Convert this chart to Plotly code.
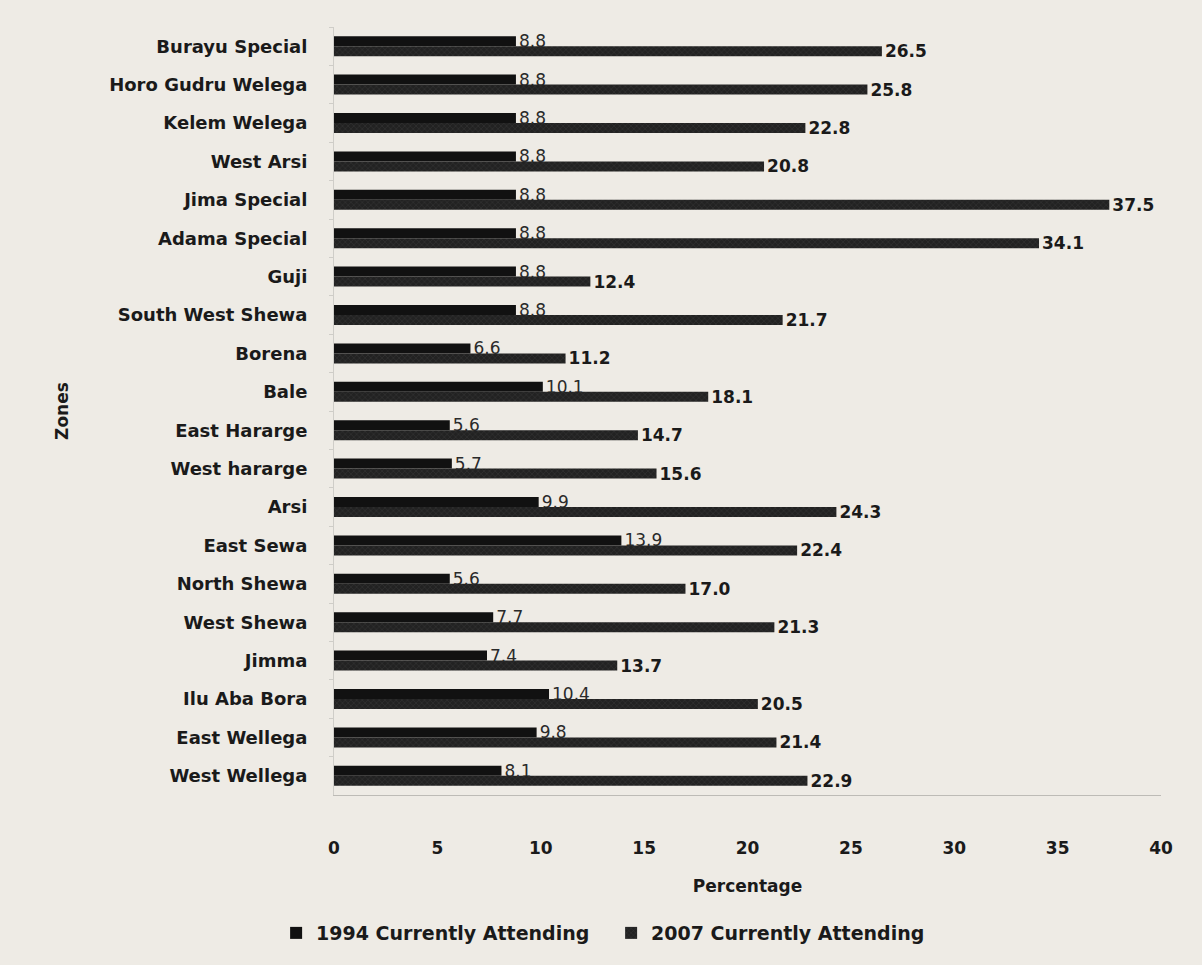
import plotly.graph_objects as go

zones = ["Burayu Special", "Horo Gudru Welega", "Kelem Welega", "West Arsi",
         "Jima Special", "Adama Special", "Guji", "South West Shewa", "Borena",
         "Bale", "East Hararge", "West hararge", "Arsi", "East Sewa",
         "North Shewa", "West Shewa", "Jimma", "Ilu Aba Bora", "East Wellega",
         "West Wellega"]
att_1994 = [8.8, 8.8, 8.8, 8.8, 8.8, 8.8, 8.8, 8.8, 6.6, 10.1, 5.6, 5.7, 9.9,
            13.9, 5.6, 7.7, 7.4, 10.4, 9.8, 8.1]
att_2007 = [26.5, 25.8, 22.8, 20.8, 37.5, 34.1, 12.4, 21.7, 11.2, 18.1, 14.7,
            15.6, 24.3, 22.4, 17.0, 21.3, 13.7, 20.5, 21.4, 22.9]
x_ticks = [0, 5, 10, 15, 20, 25, 30, 35, 40]

FONT = "DejaVu Sans"
BG = "#eeebe5"
TXT = "#1a1a1a"

fig = go.Figure()
fig.add_trace(go.Bar(
    y=zones, x=att_1994, orientation="h", name="1994 Currently Attending",
    marker=dict(color="#111111", line=dict(width=0)),
    text=[f"{v:.1f}" for v in att_1994], textposition="outside",
    textfont=dict(family=FONT, size=17, color="#2a2a2a"),
    constraintext="none", cliponaxis=False,
))
fig.add_trace(go.Bar(
    y=zones, x=att_2007, orientation="h", name="2007 Currently Attending",
    marker=dict(color="#222222", line=dict(width=0),
                pattern=dict(shape="x", fgcolor="#555555", size=4, solidity=0.2)),
    text=[f"{v:.1f}" for v in att_2007], textposition="outside",
    textfont=dict(family=FONT, size=17, color=TXT, weight="bold"),
    constraintext="none", cliponaxis=False,
))

fig.update_layout(
    width=1202, height=965,
    paper_bgcolor=BG, plot_bgcolor=BG,
    barmode="group", bargap=0.48, bargroupgap=0.0,
    margin=dict(l=334, r=41, t=27, b=170, autoexpand=False),
    font=dict(family=FONT, size=17, color=TXT),
    showlegend=True,
    legend=dict(orientation="h", x=-0.070, xanchor="left", y=-0.155,
                yanchor="top", font=dict(family=FONT, size=19, color=TXT, weight="bold"),
                bgcolor="rgba(0,0,0,0)", itemwidth=30, entrywidthmode="pixels",
                entrywidth=290, traceorder="normal"),
    xaxis=dict(range=[0, 40], tickvals=x_ticks, showgrid=False, zeroline=False,
               showline=True, linecolor="#bdbbb6", linewidth=1,
               ticks="", ticklabelstandoff=38,
               tickfont=dict(family=FONT, size=17, color=TXT, weight="bold"),
               title=dict(text="Percentage", standoff=22,
                          font=dict(family=FONT, size=17, color=TXT, weight="bold"))),
    yaxis=dict(autorange="reversed", showgrid=False, zeroline=False,
               showline=True, linecolor="#cfcdc8", linewidth=1,
               ticks="outside", tickson="boundaries", ticklen=4, tickcolor="#cfcdc8",
               ticklabelstandoff=22,
               tickfont=dict(family=FONT, size=18, color=TXT, weight="bold")),
    annotations=[dict(text="Zones", xref="paper", yref="paper", x=-0.329, y=0.5,
                      xanchor="center", yanchor="middle", textangle=-90,
                      showarrow=False,
                      font=dict(family=FONT, size=17, color=TXT, weight="bold"))],
)

fig.write_html("out.html", config={"displayModeBar": False},
               post_script="document.body.style.margin='0px';document.body.style.overflow='hidden';")
